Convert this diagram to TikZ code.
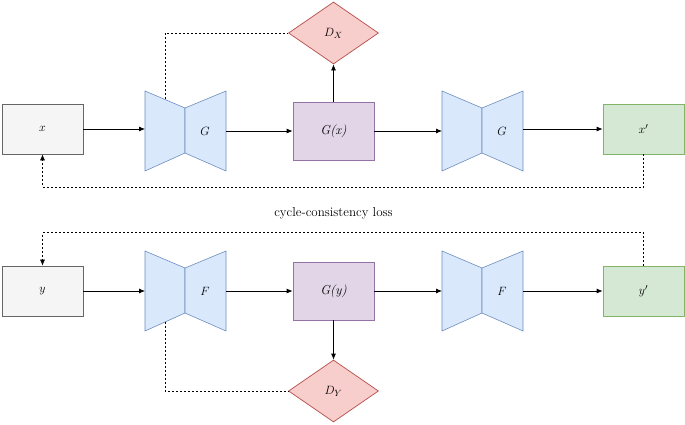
\documentclass[tikz,border=0pt]{standalone}
\usetikzlibrary{shapes.geometric,arrows.meta,calc}
\definecolor{grayfill}{RGB}{245,245,245}
\definecolor{graydraw}{RGB}{102,102,102}
\definecolor{bluefill}{RGB}{218,232,252}
\definecolor{bluedraw}{RGB}{108,142,191}
\definecolor{purplefill}{RGB}{225,213,231}
\definecolor{purpledraw}{RGB}{150,115,166}
\definecolor{greenfill}{RGB}{213,232,212}
\definecolor{greendraw}{RGB}{130,179,102}
\definecolor{redfill}{RGB}{248,206,204}
\definecolor{reddraw}{RGB}{184,84,80}
\tikzset{every picture/.style={line width=0.75pt}}
\tikzset{
  every node/.style={font=\fontsize{13}{15}\selectfont},
  box/.style={draw, rectangle, minimum width=81pt, minimum height=50pt, inner sep=0pt},
  inbox/.style={box, fill=grayfill, draw=graydraw},
  outbox/.style={box, fill=greenfill, draw=greendraw},
  genbox/.style={box, fill=purplefill, draw=purpledraw, minimum height=58pt},
  disc/.style={draw=reddraw, fill=redfill, diamond, minimum width=90pt, minimum height=62pt, inner sep=0pt},
  half/.style={draw=bluedraw, fill=bluefill, line width=0.6pt},
  flow/.style={-{Latex[length=6pt,width=5pt]}},
  loss/.style={dash pattern=on 2pt off 2pt, line width=0.6pt}
}
% trapezoid pair centred on a point
\newcommand{\hourglass}[3]{%
  \node (#1) at (#2) {};
  \draw [half] ($(#2)+(-40,-40)$) -- ($(#2)+(0,-23)$) -- ($(#2)+(0,22)$) -- ($(#2)+(-40,40)$) -- cycle;
  \draw [half] ($(#2)+(41,-40)$) -- ($(#2)+(0,-23)$) -- ($(#2)+(0,22)$) -- ($(#2)+(41,40)$) -- cycle;
  \node at ($(#2)+(20,0)$) {$#3$};
  \coordinate (#1-w) at ($(#2)+(-40,0)$);
  \coordinate (#1-e) at ($(#2)+(41,0)$);
}
\begin{document}
\begin{tikzpicture}[x=1pt,y=1pt,yscale=-1]
\useasboundingbox (0,0) rectangle (685,424);

% top row
\node [inbox] (x) at (42.5,129) {$x$};
\hourglass{G1}{185,131}{G}
\node [genbox] (Gx) at (333.5,131) {\textit{G(x)}};
\hourglass{G2}{482,131}{G}
\node [outbox] (xp) at (643.5,129) {$x'$};
\node [disc] (DX) at (333.5,33) {$D_X$};

\draw [flow] (x.east) -- (G1-w |- x.east);
\draw [flow] (G1-e |- Gx) -- (Gx.west);
\draw [flow] (Gx.east) -- (G2-w);
\draw [flow] (G2-e |- xp.west) -- (xp.west);
\draw [flow] (Gx.north) -- (DX.south);
\draw [loss] (165,99) |- (DX.west);
\draw [loss, flow] (xp.south) -- ++(0,33) -| (x.south);

\node (cc) at (333.5,213) {cycle-consistency loss};

% bottom row
\node [inbox] (y) at (42.5,291) {$y$};
\hourglass{F1}{185,291}{F}
\node [genbox] (Gy) at (333.5,291) {\textit{G(y)}};
\hourglass{F2}{482,291}{F}
\node [outbox] (yp) at (643.5,291) {$y'$};
\node [disc] (DY) at (333.5,391) {$D_Y$};

\draw [flow] (y.east) -- (F1-w);
\draw [flow] (F1-e) -- (Gy.west);
\draw [flow] (Gy.east) -- (F2-w);
\draw [flow] (F2-e) -- (yp.west);
\draw [flow] (Gy.south) -- (DY.north);
\draw [loss] (165,322) |- (DY.west);
\draw [loss, flow] (yp.north) -- ++(0,-33) -| (y.north);
\end{tikzpicture}
\end{document}
